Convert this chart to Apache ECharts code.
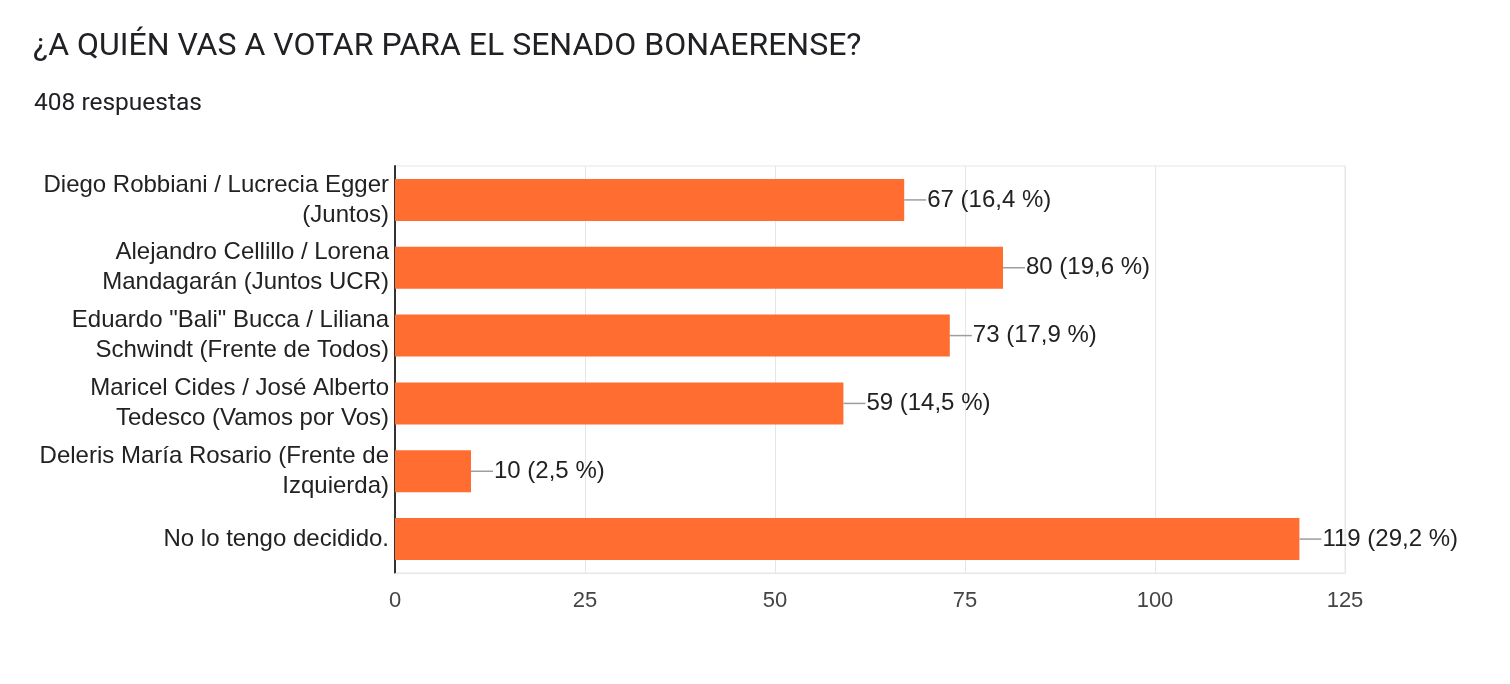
<!DOCTYPE html>
<html>
<head>
<meta charset="utf-8">
<script src="https://cdn.jsdelivr.net/npm/echarts@6/dist/echarts.min.js"></script>
<style>
html,body{margin:0;padding:0;background:#fff;}
#chart{width:1510px;height:684px;}
</style>
</head>
<body>
<div id="chart"></div>
<script>
var titleText = '¿A QUIÉN VAS A VOTAR PARA EL SENADO BONAERENSE?';
var subtitleText = '408 respuestas';
var categories = [
  'Diego Robbiani / Lucrecia Egger\n(Juntos)',
  'Alejandro Cellillo / Lorena\nMandagarán (Juntos UCR)',
  'Eduardo "Bali" Bucca / Liliana\nSchwindt (Frente de Todos)',
  'Maricel Cides / José Alberto\nTedesco (Vamos por Vos)',
  'Deleris María Rosario (Frente de\nIzquierda)',
  'No lo tengo decidido.'
];
var values = [67, 80, 73, 59, 10, 119];
var percents = ['16,4', '19,6', '17,9', '14,5', '2,5', '29,2'];
var xTicks = [0, 25, 50, 75, 100, 125];

var chart = echarts.init(document.getElementById('chart'), null, {renderer: 'canvas'});
var font = '"Liberation Sans", Arial, sans-serif';
chart.setOption({
  animation: false,
  backgroundColor: '#fff',
  title: [
    {text: titleText, left: 28, top: 26, textStyle: {fontFamily: 'Roboto', fontSize: 32, fontWeight: 'normal', color: '#202124'}},
    {text: subtitleText, left: 29, top: 86, textStyle: {fontFamily: 'Roboto', fontSize: 24.5, fontWeight: 'normal', color: '#202124'}}
  ],
  grid: {left: 395, right: 165, top: 166, bottom: 111, show: true, borderColor: '#e6e6e6', borderWidth: 1},
  xAxis: {
    type: 'value', min: 0, max: 125, interval: 25,
    axisLine: {show: true, lineStyle: {color: '#e6e6e6'}},
    axisTick: {show: false},
    splitLine: {show: true, lineStyle: {color: '#e6e6e6', width: 1}},
    axisLabel: {fontFamily: font, fontSize: 22, color: '#444', margin: 17,
      formatter: function (v) { return xTicks.indexOf(v) >= 0 ? String(v) : ''; }}
  },
  yAxis: {
    type: 'category', data: categories, inverse: true,
    axisLine: {show: true, lineStyle: {color: '#333', width: 2}},
    axisTick: {show: false},
    axisLabel: {fontFamily: font, fontSize: 24, color: '#222', lineHeight: 30, margin: 6, align: 'right'}
  },
  series: [
    {
      type: 'bar', data: values, barWidth: 42,
      itemStyle: {color: '#ff6d31'}
    },
    {
      type: 'custom',
      data: values.map(function (v, i) { return [v, i]; }),
      renderItem: function (params, api) {
        var i = api.value(1);
        var p = api.coord([api.value(0), i]);
        return {
          type: 'group',
          children: [
            {type: 'line', shape: {x1: p[0], y1: p[1], x2: p[0] + 22, y2: p[1]}, style: {stroke: '#9e9e9e', lineWidth: 1.5}},
            {type: 'text', style: {x: p[0] + 23, y: p[1], text: values[i] + ' (' + percents[i] + ' %)',
              fill: '#222', fontFamily: font, fontSize: 24, align: 'left', verticalAlign: 'middle'}}
          ]
        };
      },
      z: 5
    }
  ]
});
</script>
</body>
</html>
